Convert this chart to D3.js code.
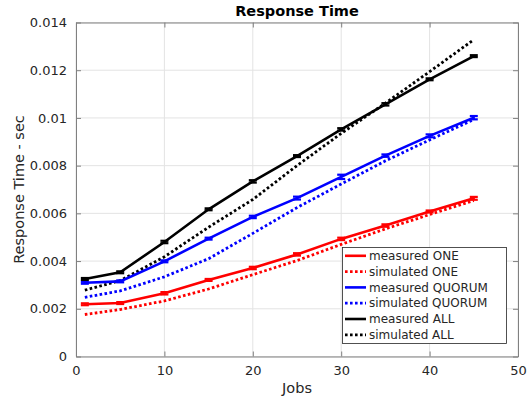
<!DOCTYPE html>
<html><head><meta charset="utf-8">
<script src="https://cdn.jsdelivr.net/npm/d3@7/dist/d3.min.js"></script>
<style>html,body{margin:0;padding:0;background:#fff;}svg{display:block;}</style>
</head><body>
<script>
const jobs = [1,5,10,15,20,25,30,35,40,45];
const measuredONE    = [0.00219,0.00224,0.00265,0.00321,0.00371,0.00428,0.00493,0.00549,0.00608,0.00663];
const simulatedONE   = [0.00176,0.00197,0.00233,0.00283,0.00343,0.00402,0.00470,0.00535,0.00595,0.00654];
const measuredQUORUM = [0.00309,0.00315,0.00399,0.00494,0.00585,0.00664,0.00753,0.00842,0.00925,0.01001];
const simulatedQUORUM= [0.00248,0.00275,0.00334,0.00410,0.00516,0.00624,0.00723,0.00820,0.00908,0.00993];
const measuredALL    = [0.00325,0.00353,0.00480,0.00617,0.00734,0.00840,0.00952,0.01057,0.01162,0.01259];
const simulatedALL   = [0.00278,0.00318,0.00418,0.00542,0.00658,0.00800,0.00935,0.01062,0.01194,0.01328];
const errONE    = [0.00004,0.00004,0.00005,0.00004,0.00005,0.00005,0.00005,0.00005,0.00004,0.00006];
const errQUORUM = [0.00004,0.00004,0.00004,0.00004,0.00005,0.00006,0.00009,0.00005,0.00006,0.00007];
const errALL    = [0.00004,0.00004,0.00005,0.00004,0.00005,0.00004,0.00005,0.00005,0.00004,0.00004];
const xTicks = [0,10,20,30,40,50];
const yTicks = [0,0.002,0.004,0.006,0.008,0.01,0.012,0.014];
const yTickLabels = ["0","0.002","0.004","0.006","0.008","0.01","0.012","0.014"];
const seriesNames = ["measured ONE","simulated ONE","measured QUORUM","simulated QUORUM","measured ALL","simulated ALL"];
const seriesColors = ["#ff0000","#ff0000","#0000ff","#0000ff","#000000","#000000"];

const W=529,H=398;
const L=76,R=518,T=22.5,B=356.5;
const font="'DejaVu Sans', sans-serif";
const svg=d3.select("body").append("svg").attr("width",W).attr("height",H);
const x=d3.scaleLinear().domain([0,50]).range([L,R]);
const y=d3.scaleLinear().domain([0,0.014]).range([B,T]);

// grid
const g=svg.append("g");
g.selectAll(".gx").data(xTicks).join("line")
 .attr("x1",d=>x(d)).attr("x2",d=>x(d)).attr("y1",T).attr("y2",B)
 .attr("stroke","#e3e3e3").attr("stroke-width",1);
g.selectAll(".gy").data(yTicks).join("line")
 .attr("y1",d=>y(d)).attr("y2",d=>y(d)).attr("x1",L).attr("x2",R)
 .attr("stroke","#e3e3e3").attr("stroke-width",1);

// axes with inside ticks
const axCol="#262626";
const axB=svg.append("g").attr("transform",`translate(0,${B})`)
 .call(d3.axisBottom(x).tickValues(xTicks).tickSizeInner(-5).tickSizeOuter(0).tickPadding(9));
const axT=svg.append("g").attr("transform",`translate(0,${T})`)
 .call(d3.axisTop(x).tickValues(xTicks).tickSizeInner(-5).tickSizeOuter(0).tickFormat(""));
const axL=svg.append("g").attr("transform",`translate(${L},0)`)
 .call(d3.axisLeft(y).tickValues(yTicks).tickSizeInner(-5).tickSizeOuter(0).tickPadding(9).tickFormat((d,i)=>yTickLabels[i]));
const axR=svg.append("g").attr("transform",`translate(${R},0)`)
 .call(d3.axisRight(y).tickValues(yTicks).tickSizeInner(-5).tickSizeOuter(0).tickFormat(""));
[axB,axT,axL,axR].forEach(a=>{
  a.select(".domain").attr("stroke","#808080").attr("stroke-width",1);
  a.selectAll(".tick line").attr("stroke","#808080").attr("stroke-width",1);
  a.selectAll("text").attr("fill",axCol).style("font-family",font).style("font-size","13px");
});

// series
const series=[measuredONE,simulatedONE,measuredQUORUM,simulatedQUORUM,measuredALL,simulatedALL];
const errs=[errONE,null,errQUORUM,null,errALL,null];
const line=d3.line().x(d=>x(d[0])).y(d=>y(d[1]));
const order=[1,3,5,0,2,4];
order.forEach(i=>{
  const vals=series[i];
  const pts=jobs.map((j,k)=>[j,vals[k]]);
  const dotted=(i%2===1);
  svg.append("path").attr("d",line(pts)).attr("fill","none")
   .attr("stroke",seriesColors[i]).attr("stroke-width",dotted?2.8:2.6)
   .attr("stroke-dasharray",dotted?"2.6,2.4":null);
  if(errs[i]){
    const e=errs[i];
    const eg=svg.append("g").attr("stroke",seriesColors[i]).attr("stroke-width",2.2);
    jobs.forEach((j,k)=>{
      const cx=x(j),y1=y(vals[k]-e[k]),y2=y(vals[k]+e[k]);
      eg.append("line").attr("x1",cx).attr("x2",cx).attr("y1",y1).attr("y2",y2);
      eg.append("line").attr("x1",cx-4).attr("x2",cx+4).attr("y1",y1).attr("y2",y1);
      eg.append("line").attr("x1",cx-4).attr("x2",cx+4).attr("y1",y2).attr("y2",y2);
    });
  }
});

// legend
const lg=svg.append("g");
lg.append("rect").attr("x",342.5).attr("y",247.5).attr("width",164).attr("height",96)
 .attr("fill","#fff").attr("stroke","#262626").attr("stroke-width",0.8);
seriesNames.forEach((n,i)=>{
  const cy=255.8+i*15.8;
  lg.append("line").attr("x1",345).attr("x2",366).attr("y1",cy).attr("y2",cy)
   .attr("stroke",seriesColors[i]).attr("stroke-width",i%2?2.8:2.6)
   .attr("stroke-dasharray",i%2?"2.6,2.4":null);
  lg.append("text").attr("x",369).attr("y",cy).attr("dy","0.35em").text(n)
   .style("font-family",font).style("font-size","12px").attr("fill",axCol);
});

// titles
svg.append("text").attr("x",297).attr("y",15.7).attr("text-anchor","middle")
 .text("Response Time").style("font-family",font).style("font-size","14.5px").style("font-weight","bold").attr("fill","#000");
svg.append("text").attr("x",297).attr("y",393).attr("text-anchor","middle")
 .text("Jobs").style("font-family",font).style("font-size","14.5px").attr("fill",axCol);
svg.append("text").attr("transform",`translate(24,${(T+B)/2}) rotate(-90)`).attr("text-anchor","middle")
 .text("Response Time - sec").style("font-family",font).style("font-size","14.5px").attr("fill",axCol);
</script>
</body></html>
